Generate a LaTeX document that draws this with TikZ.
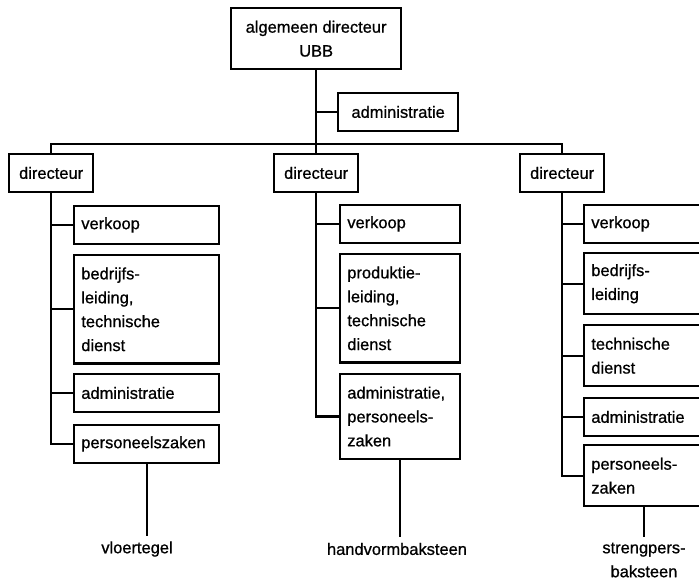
\documentclass[tikz,border=0pt]{standalone}
\usepackage{fontspec}
\setmainfont{Liberation Sans}[FakeBold=0.8]
\usetikzlibrary{positioning}

\tikzset{
  unit/.style={draw, line width=1.6pt, anchor=north west, inner xsep=0.18cm, inner ysep=0.08cm,
    font=\fontsize{11.7}{17}\selectfont},
  rows/.style={minimum height={0.35cm+#1*0.59cm}},
  boss/.style={unit, align=center},
  deptA/.style={unit, align=left, text width=3.265cm},
  deptB/.style={unit, align=left, text width=2.64cm},
  deptC/.style={unit, align=left, text width=3.065cm},
  plant/.style={font=\fontsize{11.7}{17}\selectfont, align=center}
}

\begin{document}
\begin{tikzpicture}[x=0.025cm, y=-0.025cm, line width=1.6pt]
    \useasboundingbox (0,0) rectangle (699,583);

    % Top management
    \node[boss, rows=2, minimum width=4.25cm] (ubb) at (230,7) {algemeen directeur\\UBB};
    \node[unit, rows=1, minimum width=3cm] (staf) at (337,92) {administratie};

    % Plant directors
    \node[boss, rows=1, minimum width=2.1cm] (dirA) at (8,153) {directeur};
    \node[boss, rows=1, minimum width=2.1cm] (dirB) at (273,153) {directeur};
    \node[boss, rows=1, minimum width=2.1cm] (dirC) at (519,153) {directeur};
    \coordinate (split) at (315,144);

    % Departments, first plant
    \node[deptA, rows=1] (a1) at (73,205) {verkoop};
    \node[deptA, rows=4] (a2) at (73,254) {bedrijfs-\\leiding,\\technische\\dienst};
    \node[deptA, rows=1] (a3) at (73,373) {administratie};
    \node[deptA, rows=1] (a4) at (73,424) {personeelszaken};

    % Departments, second plant
    \node[deptB, rows=1] (b1) at (339,204) {verkoop};
    \node[deptB, rows=4] (b2) at (339,253) {produktie-\\leiding,\\technische\\dienst};
    \node[deptB, rows=3] (b3) at (339,373) {administratie,\\personeels-\\zaken};

    % Departments, third plant
    \node[deptC, rows=1] (c1) at (583,204) {verkoop};
    \node[deptC, rows=2] (c2) at (583,252) {bedrijfs-\\leiding};
    \node[deptC, rows=2] (c3) at (583,324) {technische\\dienst};
    \node[deptC, rows=1] (c4) at (583,397) {administratie};
    \node[deptC, rows=2] (c5) at (583,444) {personeels-\\zaken};

    % Products
    \node[plant] (vloer) at (137,549) {vloertegel};
    \node[plant] (hand) at (397,549) {handvormbaksteen};
    \node[plant] (streng) at (644,560) {strengpers-\\baksteen};

    % Lines of authority
    \draw (ubb.south) -- (ubb.south |- dirB.north);
    \draw (staf.west) -- (staf.west -| ubb.south);
    \draw (dirA.north) |- (split) -| (dirC.north);

    \draw (dirA.south) |- (a4.west);
    \foreach \d in {a1,a2,a3}
        \draw (\d.west) -- (\d.west -| dirA.south);
    \draw (dirB.south) |- (b3.west);
    \foreach \d in {b1,b2}
        \draw (\d.west) -- (\d.west -| dirB.south);
    \draw (dirC.south) |- (c5.west);
    \foreach \d in {c1,c2,c3,c4}
        \draw (\d.west) -- (\d.west -| dirC.south);

    \draw (a4.south) -- (a4.south |- vloer.north);
    \draw (b3.south) -- (b3.south |- hand.north);
    \draw (streng.north) -- (streng.north |- c5.south);
\end{tikzpicture}
\end{document}
